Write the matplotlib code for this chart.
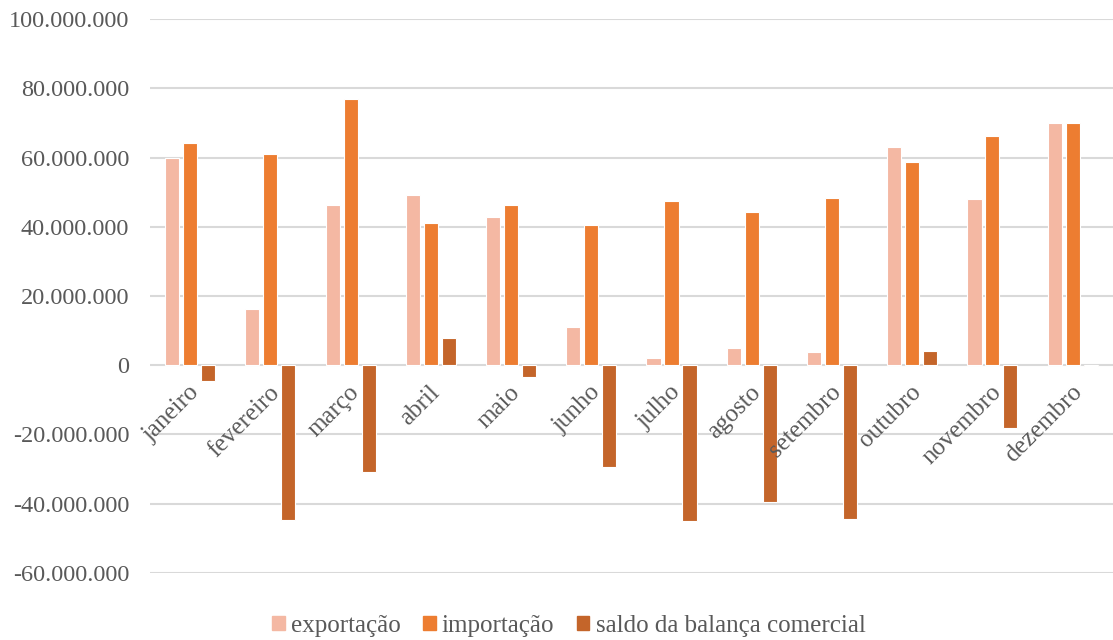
import matplotlib.pyplot as plt
import matplotlib.transforms as mtransforms
import numpy as np
from matplotlib.ticker import FuncFormatter, MultipleLocator
from matplotlib.patches import Patch

meses = ["janeiro", "fevereiro", "março", "abril", "maio", "junho",
         "julho", "agosto", "setembro", "outubro", "novembro", "dezembro"]
exportacao = [59.8, 16.2, 46.2, 49.1, 42.7, 11.0, 2.2, 5.1, 3.8, 63.0, 47.9, 69.9]
importacao = [64.3, 60.9, 76.9, 41.0, 46.4, 40.4, 47.3, 44.4, 48.3, 58.7, 66.1, 70.1]
saldo = [-4.6, -44.8, -30.8, 8.0, -3.5, -29.5, -45.1, -39.4, -44.5, 4.2, -18.2, -0.2]

# valores em milhoes -> unidades
exportacao = np.array(exportacao) * 1e6
importacao = np.array(importacao) * 1e6
saldo = np.array(saldo) * 1e6

cor_exp = "#F4B8A3"
cor_imp = "#ED7D31"
cor_sal = "#C4652A"
cor_txt = "#595959"
cor_grid = "#D9D9D9"

plt.rcParams['font.family'] = ['Liberation Serif', 'DejaVu Serif']

fig = plt.figure(figsize=(11.13, 6.4), dpi=100)
ax = fig.add_axes([0.1348, 0.1047, 0.865, 0.8656])

x = np.arange(len(meses))
w = 0.176
off = 0.224
ax.bar(x - off, exportacao, w, color=cor_exp, edgecolor="white", linewidth=0.8, zorder=3)
ax.bar(x, importacao, w, color=cor_imp, edgecolor="white", linewidth=0.8, zorder=3)
ax.bar(x + off, saldo, w, color=cor_sal, edgecolor="white", linewidth=0.8, zorder=3)

ax.set_xlim(-0.5, len(meses) - 0.5)
ax.set_ylim(-60e6, 100e6)
ax.yaxis.set_major_locator(MultipleLocator(20e6))


def fmt(v, pos):
    s = "{:,.0f}".format(abs(v)).replace(",", ".")
    return ("-" + s) if v < 0 else s


ax.yaxis.set_major_formatter(FuncFormatter(fmt))
ax.grid(axis="y", color=cor_grid, linewidth=1.5, zorder=0)
ax.set_axisbelow(True)
for sp in ax.spines.values():
    sp.set_visible(False)
ax.tick_params(axis="y", length=0, pad=15, labelsize=17.5, labelcolor=cor_txt)
ax.tick_params(axis="x", length=0, labelbottom=False)

# rotulos dos meses junto da linha do zero
trans = mtransforms.offset_copy(ax.transData, fig=fig, x=10, y=-28, units="dots")
for i, m in enumerate(meses):
    ax.text(i, 0, m, transform=trans, rotation=45, rotation_mode="anchor",
            ha="right", va="baseline", fontsize=18, color=cor_txt, zorder=4)

handles = [Patch(color=cor_exp), Patch(color=cor_imp), Patch(color=cor_sal)]
leg = fig.legend(handles, ["exportação", "importação", "saldo da balança comercial"],
                 loc="center", bbox_to_anchor=(0.511, 0.022), ncol=3,
                 frameon=False, fontsize=18, handlelength=0.5, handleheight=0.5,
                 handletextpad=0.25, columnspacing=0.9)
for t in leg.get_texts():
    t.set_color(cor_txt)

fig.savefig("out.png", dpi=100)
